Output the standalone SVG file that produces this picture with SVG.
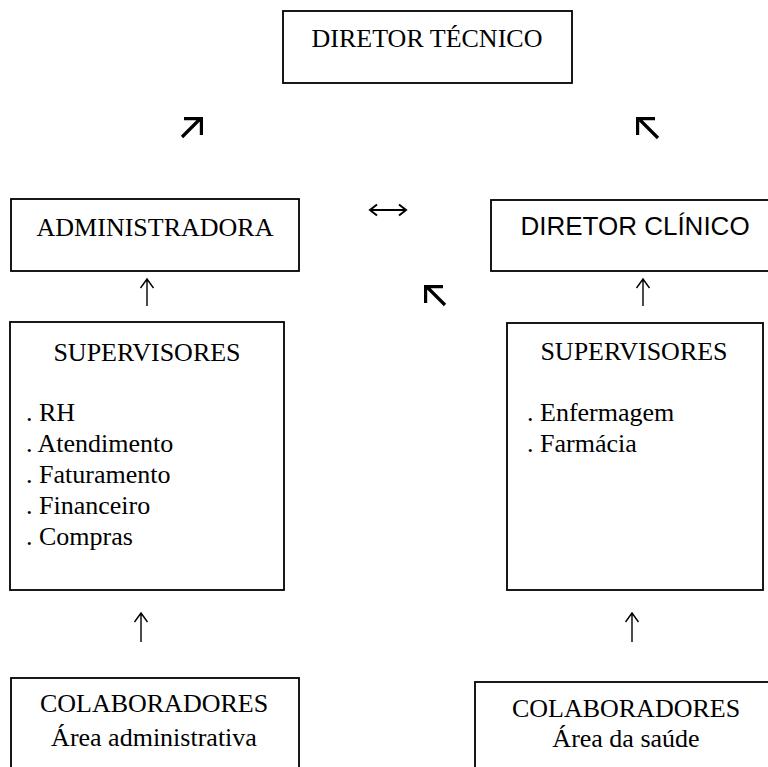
<svg xmlns="http://www.w3.org/2000/svg" width="768" height="767" viewBox="0 0 768 767">
<style>
.box{fill:#fff;stroke:#000;stroke-width:1.8}
.t{font-family:"Liberation Serif","Times New Roman",serif;font-size:26px;fill:#000}
.s{font-family:"Liberation Sans",Arial,sans-serif;font-size:26px;fill:#000}
.m{text-anchor:middle}
.thin{fill:none;stroke:#000;stroke-width:1.4;stroke-linecap:butt}
.bold{fill:none;stroke:#000;stroke-width:3.2;stroke-linejoin:miter;stroke-linecap:butt}
</style>
<rect width="768" height="767" fill="#fff"/>
<g id="diretor-tecnico">
<rect class="box" x="283" y="11" width="289" height="72"/>
<text class="t m" x="427" y="47">DIRETOR TÉCNICO</text>
</g>
<g id="administradora">
<rect class="box" x="11" y="199" width="288" height="72"/>
<text class="t m" x="155" y="236">ADMINISTRADORA</text>
</g>
<g id="diretor-clinico">
<rect class="box" x="491" y="200" width="290" height="71"/>
<text class="s m" x="635" y="235">DIRETOR CLÍNICO</text>
</g>
<g id="supervisores-adm">
<rect class="box" x="10" y="322" width="274" height="268"/>
<text class="t m" x="147" y="361">SUPERVISORES</text>
<text class="t" x="26" y="421">. RH</text>
<text class="t" x="26" y="452">. Atendimento</text>
<text class="t" x="26" y="483">. Faturamento</text>
<text class="t" x="26" y="514">. Financeiro</text>
<text class="t" x="26" y="545">. Compras</text>
</g>
<g id="supervisores-saude">
<rect class="box" x="507" y="323" width="256" height="267"/>
<text class="t m" x="634" y="360">SUPERVISORES</text>
<text class="t" x="527" y="421">. Enfermagem</text>
<text class="t" x="527" y="452">. Farmácia</text>
</g>
<g id="colaboradores-adm">
<rect class="box" x="11" y="678" width="288" height="100"/>
<text class="t m" x="154" y="712">COLABORADORES</text>
<text class="t m" x="154" y="746">Área administrativa</text>
</g>
<g id="colaboradores-saude">
<rect class="box" x="475" y="682" width="310" height="100"/>
<text class="t m" x="626" y="717">COLABORADORES</text>
<text class="t m" x="626" y="747">Área da saúde</text>
</g>
<g id="connectors">
<path class="thin" d="M147 306V279M140.5 288L147 279L153.5 288"/>
<path class="thin" d="M643 306V279M636.5 288L643 279L649.5 288"/>
<path class="thin" d="M141 642V613M134.5 622L141 613L147.5 622"/>
<path class="thin" d="M632 642V613M625.5 622L632 613L638.5 622"/>
<path class="bold" d="M182 137L200 119M184 118.6H201.4V135"/>
<path class="bold" d="M658 138L640 120M655 118.6H637.6V135"/>
<path class="bold" d="M445 305L427 287M443 286.6H425.6V303"/>
<path fill="none" stroke="#000" stroke-width="2" d="M370 210H406M377 204.5L370 210L377 215.5M399 204.5L406 210L399 215.5"/>
</g>
</svg>
